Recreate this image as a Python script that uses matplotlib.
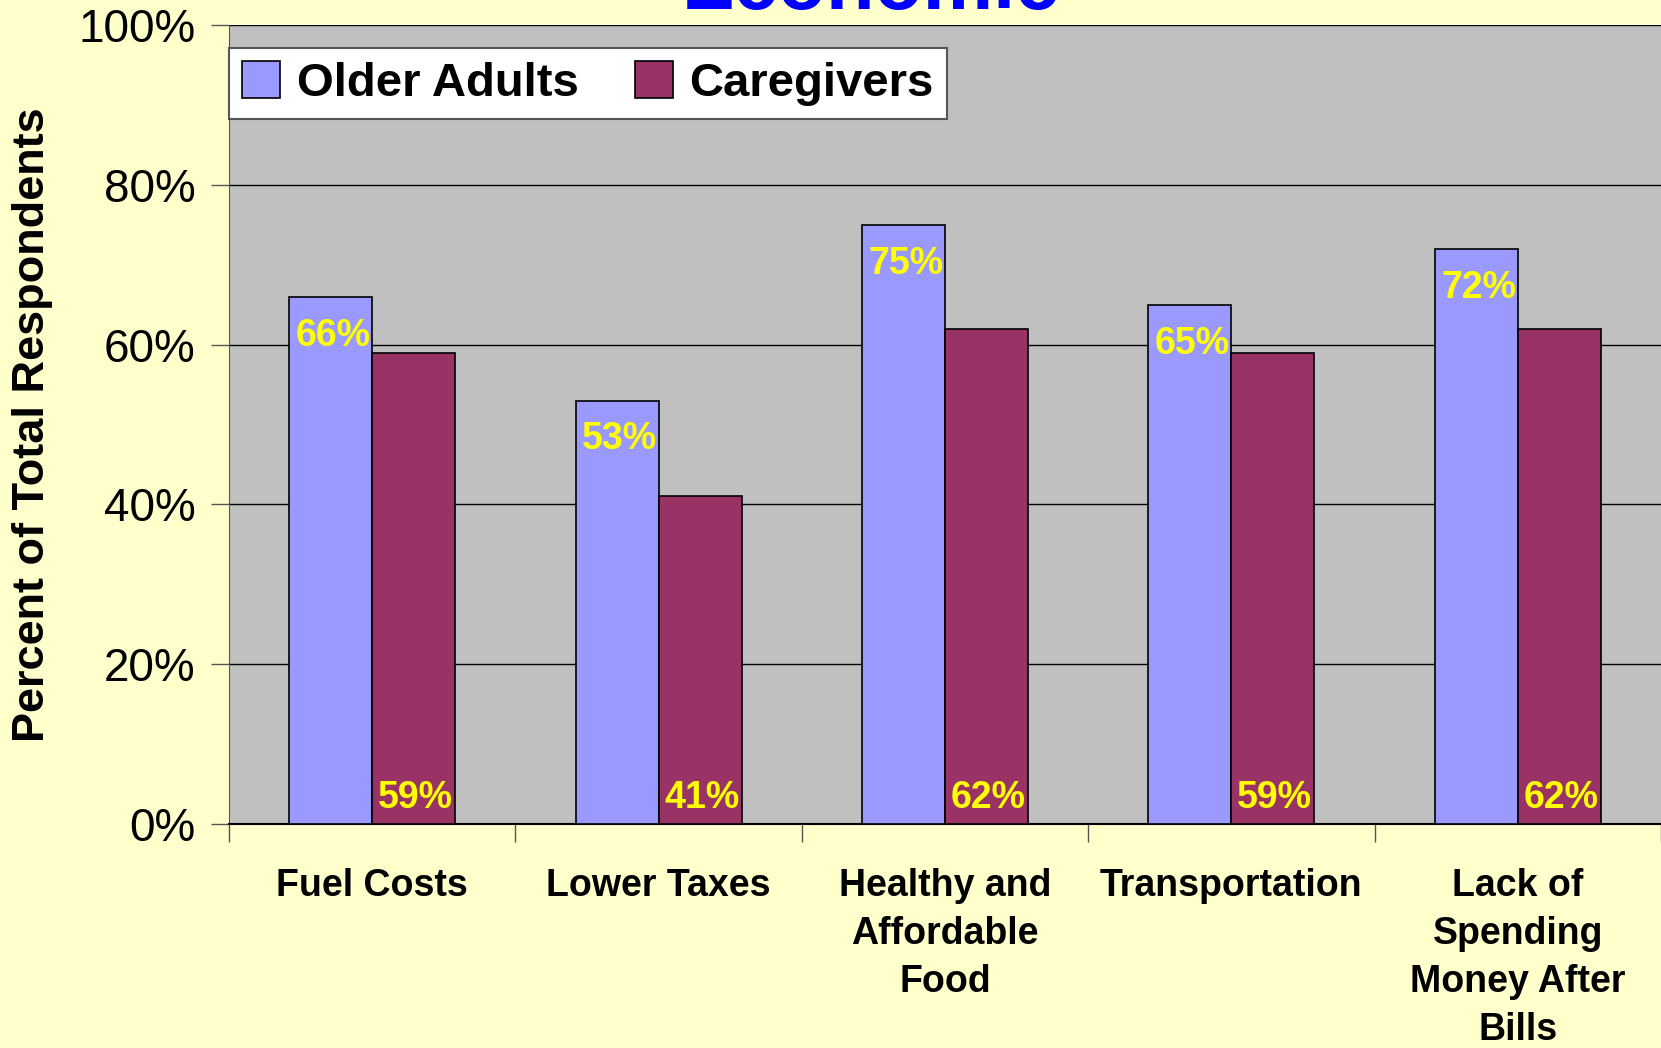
import numpy as np
import matplotlib
matplotlib.use('Agg')
import matplotlib.pyplot as plt

# Data
categories = ['Fuel Costs', 'Lower Taxes', 'Healthy and\nAffordable\nFood',
              'Transportation', 'Lack of\nSpending\nMoney After\nBills']
older_adults = [66, 53, 75, 65, 72]
caregivers = [59, 41, 62, 59, 62]
yticks = [0, 20, 40, 60, 80, 100]
ytick_labels = ['0%', '20%', '40%', '60%', '80%', '100%']

plt.rcParams['font.family'] = ['Liberation Sans', 'DejaVu Sans']

fig = plt.figure(figsize=(16.61, 10.48), dpi=100, facecolor='#FFFFCC')
ax = fig.add_axes([229/1661, 1 - 824/1048, 1 - 229/1661, (824 - 25)/1048])
ax.set_facecolor('#C0C0C0')

x = np.arange(len(categories))
w = 0.29
b1 = ax.bar(x - w/2, older_adults, w, color='#9999FF', edgecolor='black', linewidth=1.2, zorder=3, label='Older Adults')
b2 = ax.bar(x + w/2, caregivers, w, color='#993366', edgecolor='black', linewidth=1.2, zorder=3, label='Caregivers')

for xi, v in zip(x, older_adults):
    ax.annotate('%d%%' % v, (xi - w/2, v), xytext=(2, -28), textcoords='offset points',
                ha='center', va='center', color='yellow', fontsize=27, fontweight='bold', zorder=4)
for xi, v in zip(x, caregivers):
    ax.annotate('%d%%' % v, (xi + w/2, 0), xytext=(1, 19), textcoords='offset points',
                ha='center', va='center', color='yellow', fontsize=27, fontweight='bold', zorder=4)

ax.set_xlim(-0.5, len(categories) - 0.5)
ax.set_ylim(0, 100)
ax.set_yticks(yticks)
ax.set_yticklabels(ytick_labels, fontsize=33)
ax.yaxis.grid(True, color='black', linewidth=1.0, zorder=0)
ax.set_axisbelow(True)

bounds = np.arange(-0.5, len(categories) + 0.5)
ax.set_xticks(bounds, [''] * len(bounds))
ax.set_xticks(x, categories, minor=True)
ax.tick_params(axis='x', which='major', direction='out', length=13, width=1, color='#555555')
ax.tick_params(axis='x', which='minor', length=0, pad=32, labelsize=27)
for lab in ax.get_xticklabels(minor=True):
    lab.set_fontweight('bold')
    lab.set_linespacing(1.42)
ax.tick_params(axis='y', direction='out', length=13, width=1, pad=11, color='#555555')

for s in ['top', 'right']:
    ax.spines[s].set_visible(False)
ax.spines['left'].set_color('#555555')
ax.spines['bottom'].set_linewidth(1.5)

ax.set_ylabel('Percent of Total Respondents', fontsize=32.5, fontweight='bold', labelpad=18)

leg = ax.legend(loc='upper left', bbox_to_anchor=(0, 0.971), ncol=2, fancybox=False,
                borderaxespad=0, frameon=True, handlelength=0.8, handleheight=0.8,
                handletextpad=0.35, columnspacing=1.2, borderpad=0.28,
                prop={'size': 34, 'weight': 'bold'})
leg.get_frame().set_edgecolor('#555555')
leg.get_frame().set_linewidth(1.5)
leg.get_frame().set_alpha(1)

fig.text(871/1661, 1 - 9/1048, 'Economic', ha='center', va='baseline',
         color='#0000FF', fontsize=57, fontweight='bold')

fig.savefig('out.png', dpi=100, facecolor=fig.get_facecolor())
